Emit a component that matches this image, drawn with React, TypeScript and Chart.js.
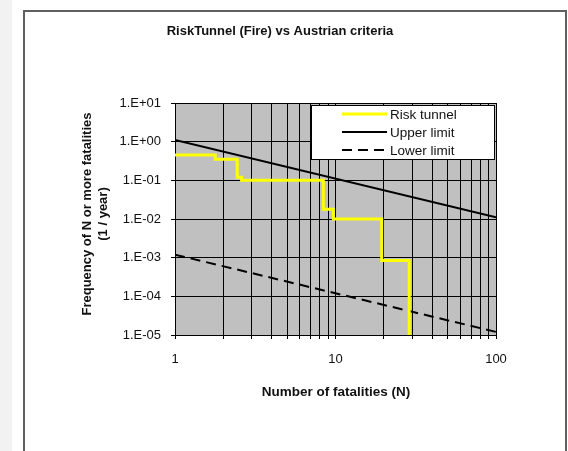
import React, { useEffect, useRef } from "react";
import { Chart, registerables } from "chart.js";

Chart.register(...registerables);

const chartTitle = "RiskTunnel (Fire) vs Austrian criteria";
const xTitle = "Number of fatalities (N)";
const yTitleLines = ["Frequency of N or more fatalities", "(1 / year)"];

const xTickValues = [1, 2, 3, 4, 5, 6, 7, 8, 9, 10, 20, 30, 40, 50, 60, 70, 80, 90, 100];
const xLabelValues = [1, 10, 100];
const yTickValues = [1e-5, 1e-4, 1e-3, 1e-2, 1e-1, 1, 10];

const seriesNames = ["Risk tunnel", "Upper limit", "Lower limit"];
const riskN = [1, 1.78, 2.44, 2.6, 8.4, 9.7, 19.4, 28.8];
const riskF = [0.45, 0.35, 0.12, 0.1, 0.018, 0.01, 0.00085, 0.00001];
const limitN = [1, 100];
const upperF = [1.1, 0.011];
const lowerF = [0.0012, 0.000012];

const FONT = "'Liberation Sans', Arial, sans-serif";

function fmtExp(v: number): string {
  const e = Math.round(Math.log10(v));
  const s = e < 0 ? "-" : "+";
  const a = Math.abs(e);
  return "1.E" + s + (a < 10 ? "0" + a : String(a));
}

const bgPlugin = {
  id: "plotBg",
  beforeDraw(chart: any) {
    const { ctx, chartArea } = chart;
    ctx.save();
    ctx.fillStyle = "#c0c0c0";
    ctx.fillRect(chartArea.left, chartArea.top, chartArea.right - chartArea.left, chartArea.bottom - chartArea.top);
    ctx.restore();
  },
};

const textPlugin = {
  id: "texts",
  afterDraw(chart: any) {
    const { ctx } = chart;
    ctx.save();
    ctx.fillStyle = "#111";
    ctx.textAlign = "center";
    ctx.textBaseline = "middle";
    ctx.font = "bold 13px " + FONT;
    ctx.fillText(chartTitle, 280, 31);
    ctx.font = "bold 13.5px " + FONT;
    ctx.fillText(xTitle, 336, 392);
    ctx.font = "bold 13px " + FONT;
    ctx.save();
    ctx.translate(95, 214);
    ctx.rotate(-Math.PI / 2);
    ctx.fillText(yTitleLines[0], 0, -8);
    ctx.fillText(yTitleLines[1], 0, 8);
    ctx.restore();

    // legend
    const lx = 311, ly = 105, lw = 183, lh = 54;
    ctx.fillStyle = "#ffffff";
    ctx.fillRect(lx, ly, lw, lh);
    ctx.strokeStyle = "#000";
    ctx.lineWidth = 1;
    ctx.strokeRect(lx + 0.5, ly + 0.5, lw, lh);
    const rows = [114, 132, 150];
    chart.data.datasets.forEach((ds: any, i: number) => {
      ctx.save();
      ctx.strokeStyle = ds.borderColor;
      ctx.lineWidth = ds.borderWidth;
      ctx.setLineDash(ds.borderDash || []);
      ctx.beginPath();
      ctx.moveTo(342, rows[i]);
      ctx.lineTo(387, rows[i]);
      ctx.stroke();
      ctx.restore();
      ctx.fillStyle = "#111";
      ctx.textAlign = "left";
      ctx.font = "13.5px " + FONT;
      ctx.fillText(ds.label, 390, rows[i] + 1);
    });
    ctx.restore();
  },
};

export default function App() {
  const ref = useRef<HTMLCanvasElement | null>(null);
  useEffect(() => {
    if (!ref.current) return;
    const chart = new Chart(ref.current, {
      type: "line",
      data: {
        datasets: [
          {
            label: seriesNames[0],
            data: riskN.map((n, i) => ({ x: n, y: riskF[i] })),
            borderColor: "#ffff00",
            borderWidth: 3,
            stepped: "before",
            pointRadius: 0,
            fill: false,
          },
          {
            label: seriesNames[1],
            data: limitN.map((n, i) => ({ x: n, y: upperF[i] })),
            borderColor: "#000000",
            borderWidth: 2,
            pointRadius: 0,
            fill: false,
          },
          {
            label: seriesNames[2],
            data: limitN.map((n, i) => ({ x: n, y: lowerF[i] })),
            borderColor: "#000000",
            borderWidth: 2,
            borderDash: [10, 6],
            pointRadius: 0,
            fill: false,
          },
        ],
      },
      options: {
        animation: false,
        responsive: false,
        devicePixelRatio: 1,
        layout: { padding: { left: 0, top: 103, right: 72, bottom: 0 } },
        plugins: { legend: { display: false }, title: { display: false }, tooltip: { enabled: false } },
        scales: {
          x: {
            type: "logarithmic",
            min: 1,
            max: 100,
            afterBuildTicks: (s: any) => {
              s.ticks = xTickValues.map((v) => ({ value: v }));
            },
            afterFit: (s: any) => {
              s.height = 116;
            },
            ticks: {
              autoSkip: false,
              maxRotation: 0,
              padding: 13,
              color: "#111",
              font: { family: FONT, size: 13 },
              callback: (v: any) => (xLabelValues.includes(Number(v)) ? String(v) : ""),
            },
            grid: { color: "#000", lineWidth: 1, tickLength: 4, drawTicks: true },
            border: { display: true, color: "#000", width: 1 },
          },
          y: {
            type: "logarithmic",
            min: 1e-5,
            max: 10,
            afterBuildTicks: (s: any) => {
              s.ticks = yTickValues.map((v) => ({ value: v }));
            },
            afterFit: (s: any) => {
              s.width = 175;
            },
            ticks: {
              autoSkip: false,
              padding: 10,
              color: "#111",
              font: { family: FONT, size: 13 },
              callback: (v: any) => fmtExp(Number(v)),
            },
            grid: { color: "#000", lineWidth: 1, tickLength: 4, drawTicks: true },
            border: { display: true, color: "#000", width: 1 },
          },
        },
      } as any,
      plugins: [bgPlugin, textPlugin],
    });
    return () => chart.destroy();
  }, []);

  return (
    <div style={{ position: "fixed", left: 0, top: 0, width: 568, height: 451, background: "#fff", overflow: "hidden" }}>
      <div style={{ position: "absolute", left: 0, top: 0, width: 12, height: 451, background: "#f2f2f2" }} />
      <div
        style={{
          position: "absolute",
          left: 23,
          top: 10,
          width: 540,
          height: 480,
          border: "2px solid #606060",
          background: "#fff",
        }}
      />
      <canvas ref={ref} width={568} height={451} style={{ position: "absolute", left: 0, top: 0, width: 568, height: 451 }} />
    </div>
  );
}
